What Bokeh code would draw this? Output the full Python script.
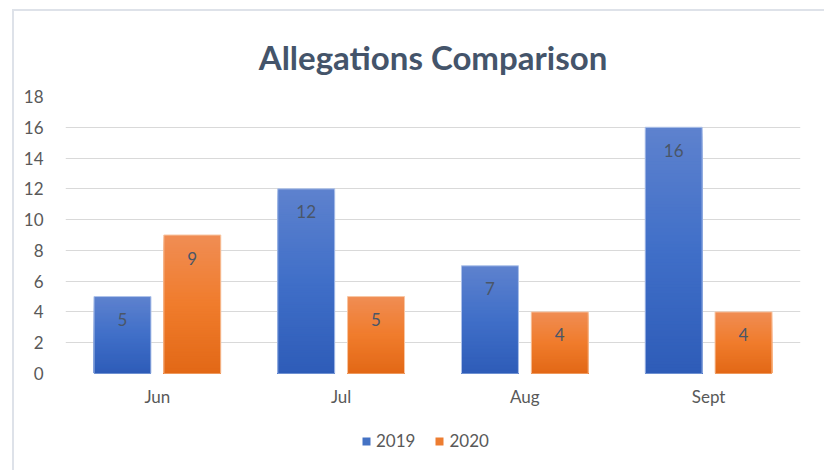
from bokeh.plotting import figure
from bokeh.layouts import column
from bokeh.models import ColumnDataSource, FactorRange, Legend, LegendItem, Title
from bokeh.transform import dodge
from bokeh.core.properties import value
from bokeh.embed import file_html
from bokeh.resources import INLINE

months = ["Jun", "Jul", "Aug", "Sept"]
y2019 = [5, 12, 7, 16]
y2020 = [9, 5, 4, 4]
series_names = ["2019", "2020"]
y_ticks = [0, 2, 4, 6, 8, 10, 12, 14, 16, 18]

FONT = "Lato"
TEXT = "#595959"
TITLE_C = "#44546A"

# gradient stops (bottom, middle, top)
blue_stops = [(46, 92, 184), (64, 111, 200), (94, 130, 206)]
orng_stops = [(226, 104, 22), (240, 124, 44), (240, 141, 84)]

def grad(stops, t):
    if t < 0.5:
        a, b, u = stops[0], stops[1], t / 0.5
    else:
        a, b, u = stops[1], stops[2], (t - 0.5) / 0.5
    return "#%02x%02x%02x" % tuple(int(round(x + (y - x) * u)) for x, y in zip(a, b))

p = figure(x_range=FactorRange(*months), y_range=(0, 18),
           width=810, height=409, output_backend="svg", toolbar_location=None,
           min_border_left=51, min_border_right=24, min_border_top=85, min_border_bottom=47)
p.outline_line_color = None
p.background_fill_color = "white"

N = 80
W = 0.155
for vals, off, stops, edge in [(y2019, -0.19, blue_stops, "#AFC3EA"),
                               (y2020, 0.19, orng_stops, "#F8C7A4")]:
    xs, bots, tops, cols = [], [], [], []
    for m, v in zip(months, vals):
        for k in range(N, 0, -1):  # nested rects, tallest first
            xs.append(m)
            bots.append(0)
            tops.append(v * k / N)
            cols.append(grad(stops, (k - 0.5) / N))
    src = ColumnDataSource(dict(x=xs, bottom=bots, top=tops, color=cols))
    p.quad(left=dodge("x", off - W, range=p.x_range), right=dodge("x", off + W, range=p.x_range),
           bottom="bottom", top="top", fill_color="color", line_color=None, source=src)
    osrc = ColumnDataSource(dict(x=months, top=vals, bottom=[0] * len(vals), lab=[str(v) for v in vals]))
    p.quad(left=dodge("x", off - W, range=p.x_range), right=dodge("x", off + W, range=p.x_range),
           bottom="bottom", top="top", fill_color=None, line_color=edge, line_width=1, source=osrc)
    p.text(x=dodge("x", off, range=p.x_range), y="top", text="lab", source=osrc,
           text_align="center", text_baseline="middle", y_offset=23,
           text_font=value(FONT), text_font_size="17px", text_color="#4A5668")

p.title = Title(text="Allegations Comparison", align="center", text_font=FONT,
                text_font_size="33px", text_font_style="bold", text_color=TITLE_C, standoff=40)

p.xgrid.grid_line_color = None
p.ygrid.grid_line_color = "#D9D9D9"
p.ygrid.grid_line_width = 1
p.yaxis.ticker = y_ticks
for ax in (p.xaxis, p.yaxis):
    ax.axis_line_color = None
    ax.major_tick_line_color = None
    ax.minor_tick_line_color = None
    ax.major_label_text_font = FONT
    ax.major_label_text_font_size = "17px"
    ax.major_label_text_color = TEXT
p.yaxis.major_label_standoff = 16
p.xaxis.major_label_standoff = 6
p.x_range.range_padding = 0
p.x_range.factor_padding = 0

# legend strip below the chart
lf = figure(width=810, height=50, x_range=(0, 1), y_range=(0, 1), output_backend="svg",
            toolbar_location=None, min_border=0)
lf.axis.visible = False
lf.grid.visible = False
lf.outline_line_color = None
lsrc = ColumnDataSource(dict(l=[0], r=[0], b=[0], t=[0]))
r1 = lf.quad(left="l", right="r", bottom="b", top="t", fill_color="#4472C4", line_color=None, source=lsrc)
r2 = lf.quad(left="l", right="r", bottom="b", top="t", fill_color="#ED7D31", line_color=None, source=lsrc)
legend = Legend(items=[LegendItem(label=series_names[0], renderers=[r1]),
                       LegendItem(label=series_names[1], renderers=[r2])],
                orientation="horizontal", location=(296, 19),
                label_text_font=FONT, label_text_font_size="17px", label_text_color=TEXT,
                glyph_width=10, glyph_height=10, spacing=19, label_standoff=5,
                border_line_color=None, background_fill_alpha=0, margin=0, padding=4)
lf.add_layout(legend, "center")

layout = column(p, lf, spacing=0,
                styles={"border-left": "2px solid #DEE2E9", "border-top": "2px solid #DEE2E9",
                        "border-right": "1px solid #EEF0F4",
                        "margin-left": "12px", "margin-top": "9px"})
open("out.html", "w").write(file_html(layout, INLINE))
